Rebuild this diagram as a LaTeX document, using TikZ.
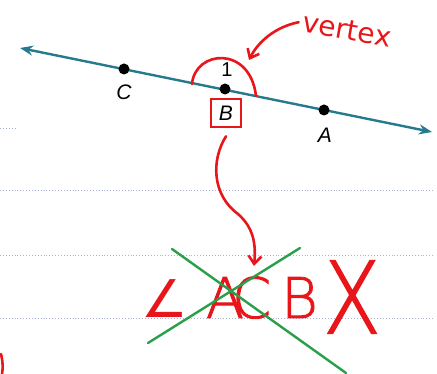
\documentclass[tikz,border=0pt]{standalone}
\usepackage{fontspec}
\setmainfont{DejaVu Sans}
\newfontfamily\lblfont{Liberation Sans}
\newfontfamily\thinfont[FakeBold=1.5]{DejaVu Sans ExtraLight}
\newfontfamily\angfont{DejaVu Sans}
\usetikzlibrary{arrows.meta}
\definecolor{teal}{RGB}{38,122,142}
\definecolor{pen}{RGB}{232,22,26}
\definecolor{mark}{RGB}{40,160,75}
\definecolor{rule}{RGB}{170,180,212}
\tikzset{
  ruleline/.style={draw=rule, line width=0.9pt, dotted},
  ray/.style={draw=teal, line width=2.4pt, {Stealth[length=13pt,width=10pt]}-{Stealth[length=13pt,width=10pt]}},
  pt/.style={circle, fill=black, inner sep=0pt, minimum size=11pt},
  lbl/.style={font=\lblfont\itshape\fontsize{21}{21}\selectfont, inner sep=0pt},
  ink/.style={draw=pen, line width=2.6pt, line cap=round, line join=round},
  inktip/.style={ink, -{Straight Barb[length=8pt,width=13pt]}},
  hand/.style={text=pen, inner sep=0pt},
  cross/.style={draw=mark, line width=2.4pt, line cap=round}
}
\begin{document}
\begin{tikzpicture}[x=1pt,y=-1pt]
\useasboundingbox (0,0) rectangle (437,374);
% ruled lines
\draw[ruleline] (0,128) -- (17,128);
\draw[ruleline] (0,190) -- (433,190);
\draw[ruleline] (0,255) -- (433,255);
\draw[ruleline] (0,318) -- (433,318);
% line with points
\coordinate (L) at (20,48);
\coordinate (R) at (432,132);
\draw[ray] (L) -- (R);
\node[pt] (C) at (124,69) {};
\node[pt] (B) at (225,89) {};
\node[pt] (A) at (324,110) {};
\node[lbl] (Clbl) at (124,92) {C};
\node[lbl] (Albl) at (325,135) {A};
\node[font=\lblfont\fontsize{20}{20}\selectfont, inner sep=0pt] (one) at (227,70) {1};
\node[lbl, draw=pen, line width=2.6pt, minimum width=30pt, minimum height=28pt] (Blbl) at (226,113) {B};
% angle arc
\coordinate (arcL) at (192,84);
\coordinate (arcR) at (256,96);
\draw[ink] (arcL) .. controls (195,50) and (250,45) .. (arcR);
% vertex label and arrow
\node[hand, font=\fontsize{28}{28}\selectfont, rotate=-10] (vertex) at (347,30) {vertex};
\coordinate (vtip) at (249,60);
\draw[inktip] ([xshift=-4pt]vertex.west) .. controls (275,27) and (258,42) .. (vtip);
% curve from B box
\coordinate (ctip) at (254,266);
\draw[inktip] ([yshift=-8pt]Blbl.south) .. controls (211,160) and (212,195) .. (238,214) .. controls (254,228) and (256,245) .. (ctip);
% wrong answer
\node[hand, font=\thinfont\fontsize{56}{56}\selectfont, anchor=base west] (acb) at (141,318) {{\angfont\fontsize{52}{52}\selectfont ∠}\kern18pt A\kern-12pt C\kern10pt B};
\node[hand, font=\thinfont\fontsize{100}{100}\selectfont, xscale=0.85, anchor=center] (X) at (352,297) {X};
% green cross
\coordinate (g1) at (172,249);
\coordinate (g2) at (346,373);
\coordinate (g3) at (148,343);
\coordinate (g4) at (300,248);
\draw[cross] (g1) -- (g2);
\draw[cross] (g3) -- (g4);
% edge fragment
\draw[ink] (1,354) .. controls (3,362) and (3,368) .. (2,374);
\end{tikzpicture}
\end{document}
